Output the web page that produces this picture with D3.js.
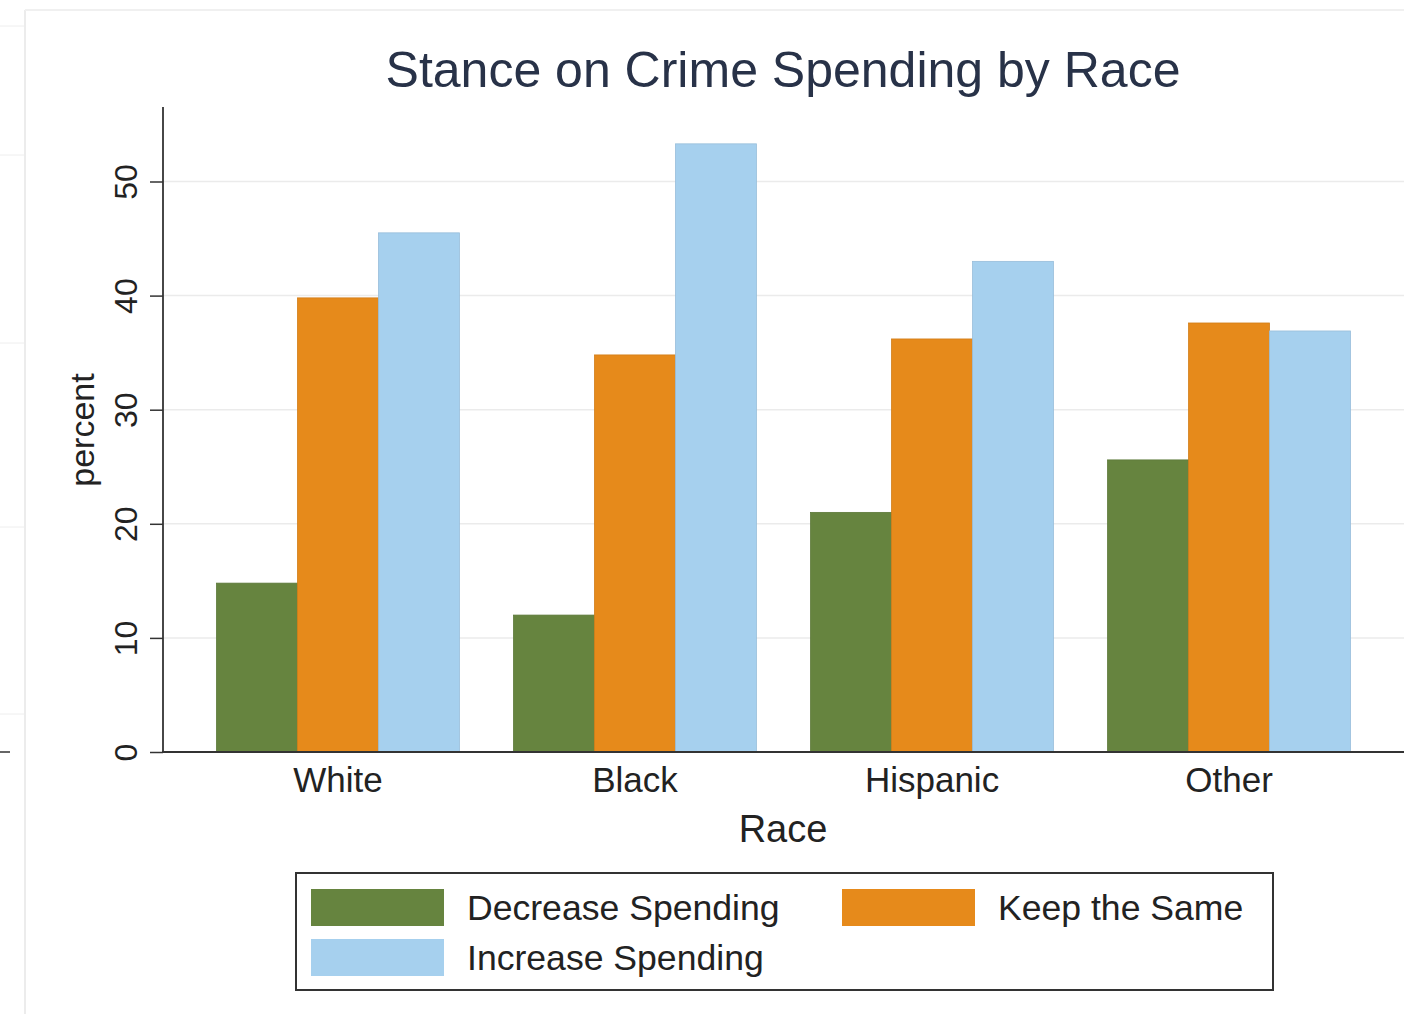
<!DOCTYPE html>
<html><head><meta charset="utf-8">
<script src="https://cdn.jsdelivr.net/npm/d3@7"></script>
<style>body{margin:0;background:#fff}svg{display:block}text{font-family:"Liberation Sans",Arial,sans-serif}</style>
</head><body><svg id="c" width="1404" height="1014"></svg>
<script>
const categories = ["White","Black","Hispanic","Other"];
const seriesNames = ["Decrease Spending","Keep the Same","Increase Spending"];
const decreaseValues = [14.8, 12.0, 21.0, 25.6];
const keepValues = [39.8, 34.8, 36.2, 37.6];
const increaseValues = [45.5, 53.3, 43.0, 36.9];
const yTicks = [0,10,20,30,40,50];
const colors = ["#66843f","#e68a1b","#a6d0ee"];
const seriesValues = [decreaseValues, keepValues, increaseValues];

const svg = d3.select("#c");
// faint outer panel artifacts
svg.append("line").attr("x1",25).attr("x2",25).attr("y1",10).attr("y2",1014).attr("stroke","#ececec").attr("stroke-width",2);
svg.append("line").attr("x1",25).attr("x2",1404).attr("y1",10).attr("y2",10).attr("stroke","#f0f0f0").attr("stroke-width",2);
[26,155,343,527,714].forEach(yy=>svg.append("line").attr("x1",0).attr("x2",24).attr("y1",yy).attr("y2",yy).attr("stroke","#eeeeee"));
svg.append("line").attr("x1",0).attr("x2",10).attr("y1",752).attr("y2",752).attr("stroke","#333").attr("stroke-width",1.5);

const y = d3.scaleLinear().domain([0,50]).range([752,181.5]);
const x0 = d3.scaleBand().domain(categories).range([164.5,1402.5]).paddingInner(0.182).paddingOuter(0.175);
const x1 = d3.scaleBand().domain(seriesNames).range([0,x0.bandwidth()]).padding(0);

// gridlines
svg.append("g").selectAll("line").data(yTicks.filter(d=>d>0)).join("line")
  .attr("x1",164).attr("x2",1404).attr("y1",d=>y(d)).attr("y2",d=>y(d))
  .attr("stroke","#ebebeb").attr("stroke-width",1.5);

// bars
const rows = categories.map((c,i)=>({cat:c, vals: seriesNames.map((s,j)=>({s, v: seriesValues[j][i], j}))}));
const g = svg.append("g").selectAll("g").data(rows).join("g").attr("transform",d=>`translate(${x0(d.cat)},0)`);
g.selectAll("rect").data(d=>d.vals).join("rect")
  .attr("x",d=>x1(d.s)).attr("width",x1.bandwidth())
  .attr("y",d=>y(d.v)).attr("height",d=>y(0)-y(d.v))
  .attr("fill",d=>colors[d.j])
  .attr("stroke",d=>d3.color(colors[d.j]).darker(0.25)).attr("stroke-width",0.8);

// y axis
const yAxis = d3.axisLeft(y).tickValues(yTicks).tickSize(13).tickPadding(0).tickFormat(d3.format("d"));
const ya = svg.append("g").attr("transform","translate(163,0)").call(yAxis);
ya.select(".domain").remove();
ya.selectAll(".tick line").attr("stroke","#333").attr("stroke-width",1.5);
ya.selectAll(".tick text").attr("transform","translate(-26,0) rotate(-90)").attr("text-anchor","middle")
  .attr("dy",0).attr("x",0).attr("y",0).attr("font-size",32).attr("fill","#222");
svg.append("line").attr("x1",163).attr("x2",163).attr("y1",107).attr("y2",752.5).attr("stroke","#333").attr("stroke-width",1.8);

// x axis
const xa = svg.append("g").attr("transform","translate(0,752)").call(d3.axisBottom(x0).tickSize(0).tickPadding(0));
xa.select(".domain").remove();
svg.append("line").attr("x1",162).attr("x2",1404).attr("y1",752).attr("y2",752).attr("stroke","#333").attr("stroke-width",1.8);
xa.selectAll(".tick text").attr("y",40).attr("dy",0).attr("font-size",35).attr("fill","#222");

// axis titles
svg.append("text").attr("transform","translate(94,430) rotate(-90)").attr("text-anchor","middle").attr("font-size",34).attr("fill","#222").text("percent");
svg.append("text").attr("x",783).attr("y",842).attr("text-anchor","middle").attr("font-size",38).attr("fill","#222").text("Race");

// title
svg.append("text").attr("x",783).attr("y",87).attr("text-anchor","middle").attr("font-size",50).attr("fill","#283248").text("Stance on Crime Spending by Race");

// legend
const lg = svg.append("g");
lg.append("rect").attr("x",296).attr("y",873).attr("width",977).attr("height",117).attr("fill","#fff").attr("stroke","#333").attr("stroke-width",2);
const legPos = [[311,889],[842,889],[311,939]];
seriesNames.forEach((s,i)=>{
  const [lx,ly] = legPos[i];
  lg.append("rect").attr("x",lx).attr("y",ly).attr("width",133).attr("height",37).attr("fill",colors[i]);
  lg.append("text").attr("x",lx+156).attr("y",ly+31).attr("font-size",35.6).attr("fill","#222").text(s);
});
</script></body></html>
